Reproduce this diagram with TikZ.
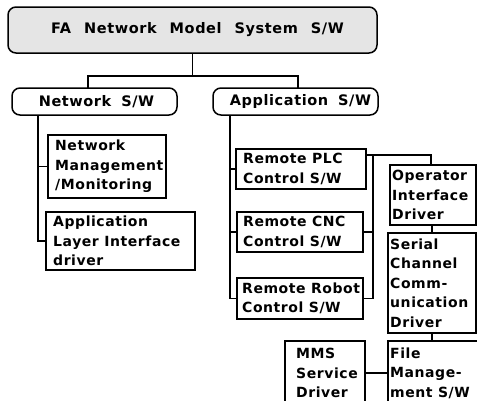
\documentclass[tikz,border=0pt]{standalone}
\usepackage{fontspec}
\newfontfamily\lblfont{DejaVu Sans}[LetterSpace=4]
\begin{document}
\begin{tikzpicture}[x=1pt, y=-1pt,
  lbl/.style={font=\lblfont\bfseries\fontsize{14}{19.5}\selectfont},
  head/.style={font=\lblfont\bfseries\fontsize{14.5}{19.5}\selectfont},
  box/.style={draw, line width=1.5pt, inner sep=0pt, outer sep=0pt, anchor=north west},
  pillbox/.style={box, rounded corners=8pt, head},
  txt/.style={lbl, align=left, inner sep=0pt, anchor=west},
  wire/.style={line width=1.5pt}]
\useasboundingbox (0,0) rectangle (477,400);
\clip (0,0) rectangle (477,400);

% top level and the two main branches
\node[pillbox, fill=black!10, minimum width=369pt, minimum height=46pt] (root) at (8,7)
  {\spaceskip=13pt\hspace{10pt}FA Network Model System S/W};
\node[pillbox, minimum width=165pt, minimum height=27pt] (net) at (12,88)
  {\spaceskip=10pt\hspace{4pt}Network S/W};
\node[pillbox, minimum width=165pt, minimum height=27pt] (app) at (213,88)
  {\spaceskip=10pt\hspace{10pt}Application S/W};

% network software modules
\node[box, minimum width=118pt, minimum height=63pt] (nmm) at (48,135) {};
\node[txt] (nmmT) at ([xshift=7pt]nmm.west) {Network\\Management\\/Monitoring};
\node[box, minimum width=149pt, minimum height=58pt] (alid) at (46,212) {};
\node[txt] (alidT) at ([xshift=7pt]alid.west) {Application\\Layer Interface\\driver};

% application software modules
\node[box, minimum width=130pt, minimum height=40pt] (plc) at (236,149) {};
\node[txt] (plcT) at ([xshift=7pt]plc.west) {Remote PLC\\Control S/W};
\node[box, minimum width=126pt, minimum height=40pt] (cnc) at (237,212) {};
\node[txt] (cncT) at ([xshift=6pt]cnc.west) {Remote CNC\\Control S/W};
\node[box, minimum width=126pt, minimum height=41pt] (robot) at (237,278) {};
\node[txt] (robotT) at ([xshift=5pt]robot.west) {Remote Robot\\Control S/W};

% drivers (right column and bottom row)
\node[box, minimum width=86pt, minimum height=60pt] (opr) at (390,165) {};
\node[txt] (oprT) at ([xshift=2pt]opr.west) {Operator\\Interface\\Driver};
\node[box, minimum width=88pt, minimum height=100pt] (ser) at (388,233) {};
\node[txt] (serT) at ([xshift=2pt]ser.west) {Serial\\Channel\\Comm-\\unication\\Driver};
\node[box, minimum width=80pt, minimum height=64pt] (mms) at (285,341) {};
\node[txt] (mmsT) at ([xshift=11pt]mms.west) {MMS\\Service\\Driver};
\node[box, minimum width=92pt, minimum height=64pt] (file) at (388,341) {};
\node[txt] (fileT) at ([xshift=2pt]file.west) {File\\Manage-\\ment S/W};

% tree connectors
\coordinate (j0) at (193,76);
\draw[wire] (root.south) -- (root.south |- j0);
\draw[wire] ([xshift=-6.5pt]net.north) |- (j0) -| ([xshift=2.5pt]app.north);

\draw[wire] ([xshift=26pt]net.south west) |- (alid.west);
\draw[wire] (nmm.west) -- (nmm.west -| alid.west) -- ++(-8,0);
\draw[wire] ([xshift=17pt]app.south west) |- (robot.west);
\draw[wire] (plc.west) -- ++(-6,0);
\draw[wire] (cnc.west) -- ++(-7,0);

% driver bus on the right
\coordinate (bt) at (373,155);
\draw[wire] ([yshift=-6pt]plc.north east) -| ([xshift=-2pt]opr.north);
\draw[wire] (bt) |- (robot.east);
\draw[wire] (cnc.east) -- (cnc.east -| bt);
\draw[wire] (opr.south -| ser.north) -- (ser.north);
\draw[wire] (ser.south) -- (ser.south |- file.north);
\draw[wire] (mms.east) -- (file.west);
\end{tikzpicture}
\end{document}
